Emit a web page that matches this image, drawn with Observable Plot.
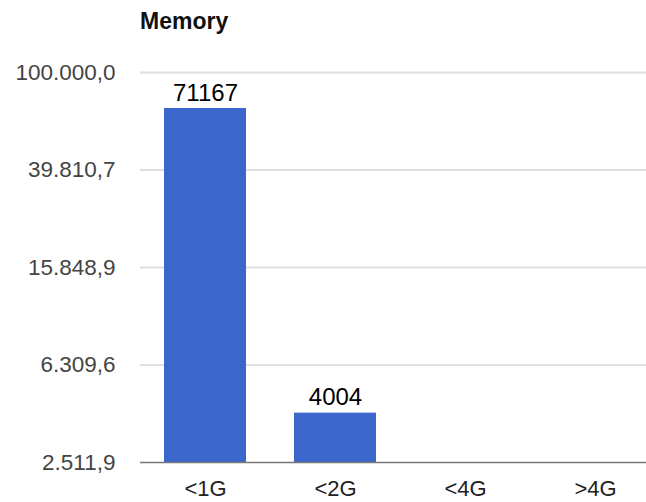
<!DOCTYPE html>
<html>
<head>
<meta charset="utf-8">
<script src="https://cdn.jsdelivr.net/npm/d3@7"></script>
<script src="https://cdn.jsdelivr.net/npm/@observablehq/plot@0.6"></script>
<style>
  html, body { margin: 0; padding: 0; background: #fff; overflow: hidden; }
  #title { height: 40px; position: relative; font-family: "Liberation Sans", Arial, sans-serif; }
  #title span { position: absolute; left: 140px; top: 8px; font-weight: bold; font-size: 23px; color: #111; }
</style>
</head>
<body>
<div id="title"><span>Memory</span></div>
<div id="chart"></div>
<script>
const categories = ["<1G", "<2G", "<4G", ">4G"];
const values = [71167, 4004, 0, 0];
const yTicks = [2511.886, 6309.573, 15848.93, 39810.72, 100000];
const yTickLabels = ["2.511,9", "6.309,6", "15.848,9", "39.810,7", "100.000,0"];

const data = categories.map((c, i) => ({cat: c, value: values[i]}));
const shown = data.filter(d => d.value > 0);
const yMin = yTicks[0], yMax = yTicks[yTicks.length - 1];

const chart = Plot.plot({
  width: 646,
  height: 462,
  marginLeft: 140,
  marginRight: 0,
  marginTop: 32,
  marginBottom: 40,
  style: {fontFamily: "'Liberation Sans', Arial, sans-serif", fontSize: "22px", background: "#fff"},
  x: {domain: categories, range: [140, 660], paddingInner: 0.37, paddingOuter: 0.185, label: null},
  y: {type: "log", domain: [yMin, yMax], label: null},
  marks: [
    Plot.ruleY(yTicks.slice(1), {stroke: "#e0e0e0", strokeWidth: 2}),
    Plot.barY(shown, {x: "cat", y1: yMin, y2: "value", fill: "#3b67cc"}),
    Plot.ruleY([yMin], {stroke: "#777", strokeWidth: 1.5}),
    Plot.text(shown, {x: "cat", y: "value", text: d => String(d.value), dy: -8, lineAnchor: "bottom", fontSize: 24, fill: "#000"}),
    Plot.axisY(yTicks, {tickSize: 0, tickPadding: 25, fontSize: 22.5, fill: "#444", tickFormat: d => yTickLabels[yTicks.indexOf(d)], label: null}),
    Plot.axisX({tickSize: 0, tickPadding: 18, fontSize: 22, fill: "#222", label: null})
  ]
});
document.getElementById("chart").appendChild(chart);
</script>
</body>
</html>
